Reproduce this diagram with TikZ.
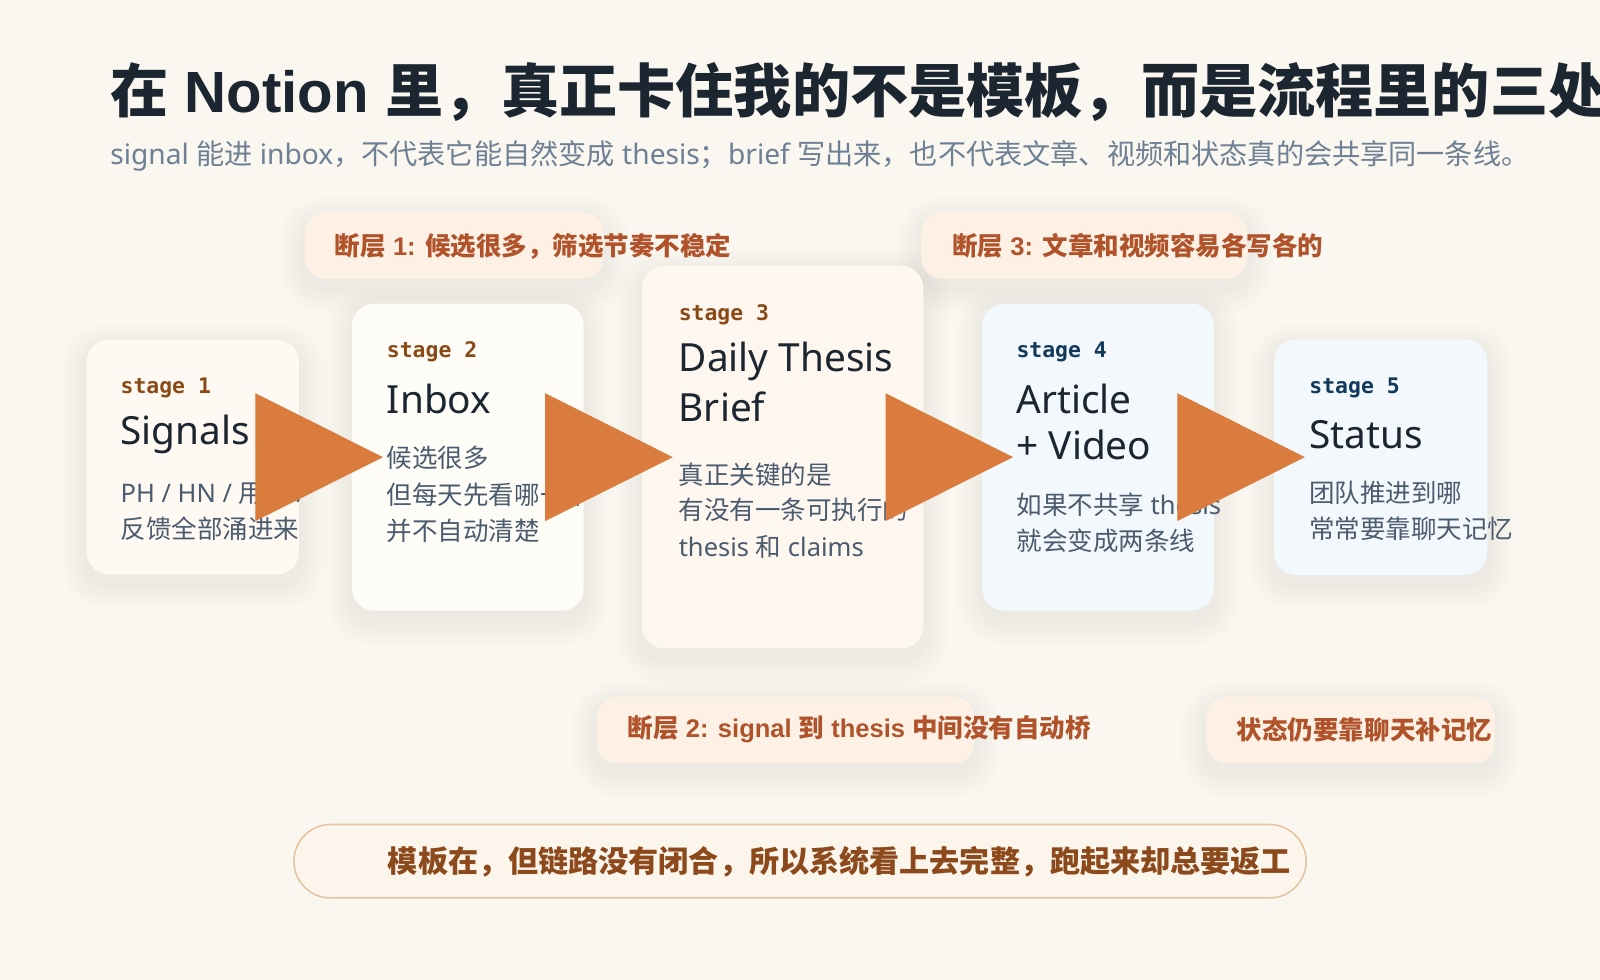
\documentclass[tikz,border=0pt]{standalone}
\usepackage{fontspec}
\setmainfont{Noto Sans}[BoldFont={Liberation Sans Bold}]
\setmonofont{DejaVu Sans Mono}
\newfontfamily\cjkfont{Noto Sans CJK SC}
% switch to the CJK face for Han characters and CJK punctuation
\XeTeXinterchartokenstate=1
\newXeTeXintercharclass\cjkclass
\newcount\cjkcode
\def\setcjkrange#1#2{\cjkcode=#1\relax
  \loop\XeTeXcharclass\cjkcode=\cjkclass
    \ifnum\cjkcode<#2\relax\advance\cjkcode by 1\repeat}
\setcjkrange{"3000}{"303F}
\setcjkrange{"4E00}{"9FFF}
\setcjkrange{"FF00}{"FFEF}
\XeTeXinterchartoks 0 \cjkclass = {\begingroup\cjkfont}
\XeTeXinterchartoks 4095 \cjkclass = {\begingroup\cjkfont}
\XeTeXinterchartoks \cjkclass 0 = {\endgroup}
\XeTeXinterchartoks \cjkclass 4095 = {\endgroup}
\usepackage{xcolor}
\usepackage{tikz}
\usetikzlibrary{arrows.meta, positioning}

\definecolor{paper}{HTML}{FAF6F0}
\definecolor{ink}{HTML}{1C2630}
\definecolor{mist}{HTML}{6E8093}
\definecolor{slate}{HTML}{4B5B6E}
\definecolor{rust}{HTML}{B0532B}
\definecolor{bark}{HTML}{8A4A16}
\definecolor{navy}{HTML}{10395B}
\definecolor{warmA}{HTML}{FFF9F3}
\definecolor{warmB}{HTML}{FEFCF6}
\definecolor{warmC}{HTML}{FEF7F0}
\definecolor{icy}{HTML}{F3F8FC}
\definecolor{peach}{HTML}{FDF1E5}
\definecolor{tan}{HTML}{E4C49E}
\definecolor{cream}{HTML}{FCF5EC}
\definecolor{umber}{HTML}{8C4A1C}
\definecolor{ember}{HTML}{D97C3D}
\definecolor{glowc}{HTML}{A98B72}

\pgfdeclarelayer{back}
\pgfdeclarelayer{glow}
\pgfsetlayers{back,glow,main}

\begin{document}
\begin{tikzpicture}[
    x=1pt, y=-1pt,
    card/.style={rounded corners=22pt, inner sep=0pt},
    tag/.style={anchor=west, inner sep=0pt, font=\ttfamily\bfseries\fontsize{21}{24}\selectfont, text=bark},
    cooltag/.style={tag, text=navy},
    headline/.style={anchor=west, inner sep=0pt, font=\fontsize{38}{44}\selectfont, text=ink},
    bodyline/.style={anchor=west, inner sep=0pt, font=\fontsize{25}{30}\selectfont, text=slate},
    gapbox/.style={rounded corners=20pt, fill=peach, minimum height=65pt, inner sep=0pt},
    gaptext/.style={anchor=west, inner sep=0pt, font=\bfseries\fontsize{25}{30}\selectfont, text=rust},
    moral/.style={rounded corners=36pt, draw=tan, line width=1.5pt, fill=cream, inner sep=0pt},
    flow/.style={draw=ember, line width=1pt, shorten >=-30.5pt, -{Triangle[length=125pt, width=125pt]}}
]
\useasboundingbox (0,0) rectangle (1568,960.4);
\clip (0,0) rectangle (1568,960.4);
\begin{pgfonlayer}{back}
\fill[paper] (0,0) rectangle (1568,960.4);
\end{pgfonlayer}

% heading
\node[anchor=west, inner sep=0pt, font=\bfseries\fontsize{57}{62}\selectfont, text=ink] (title) at (108,90)
    {在 Notion 里，真正卡住我的不是模板，而是流程里的三处};
\node[anchor=west, inner sep=0pt, font=\fontsize{27.6}{32}\selectfont, text=mist] (subtitle) at (108,153)
    {signal 能进 inbox，不代表它能自然变成 thesis；brief 写出来，也不代表文章、视频和状态真的会共享同一条线。};

% gaps
\node[gapbox, minimum width=293pt] (g1) at (445,240.5) {};
\node[gaptext] (g1-text) at (328,241) {断层 1: 候选很多，筛选节奏不稳定};
\node[gapbox, minimum width=319pt] (g3) at (1062.5,240.5) {};
\node[gaptext] (g3-text) at (933,241) {断层 3: 文章和视频容易各写各的};
\node[gapbox, minimum width=370pt] (g2) at (770,715.5) {};
\node[gaptext] (g2-text) at (615,715) {断层 2: signal 到 thesis 中间没有自动桥};
\node[gapbox, minimum width=283pt] (g4) at (1323.5,715.5) {};
\node[gaptext] (g4-text) at (1212,715) {状态仍要靠聊天补记忆};

% stage 1
\node[card, fill=warmA, minimum width=208pt, minimum height=230pt] (s1) at (189,448) {};
\node[tag] (s1-tag) at (118,380) {stage 1};
\node[headline] (s1-name) at (118,426) {Signals};
\node[bodyline] (s1-a) at (118,483) {PH / HN / 用户 /};
\node[bodyline] (s1-b) at (118,518) {反馈全部涌进来};

% stage 2
\node[card, fill=warmB, minimum width=227pt, minimum height=301pt] (s2) at (458.5,448) {};
\node[tag] (s2-tag) at (379,345) {stage 2};
\node[headline] (s2-name) at (379,391) {Inbox};
\node[bodyline] (s2-a) at (379,449) {候选很多};
\node[bodyline] (s2-b) at (379,485) {但每天先看哪一个};
\node[bodyline] (s2-c) at (379,520) {并不自动清楚};

% stage 3
\node[card, fill=warmC, minimum width=276pt, minimum height=375pt] (s3) at (767,448) {};
\node[tag] (s3-tag) at (665,308) {stage 3};
\node[headline] (s3-name) at (665,354) {Daily Thesis};
\node[headline] (s3-name2) at (665,399) {Brief};
\node[bodyline] (s3-a) at (665,465) {真正关键的是};
\node[bodyline] (s3-b) at (665,500) {有没有一条可执行的};
\node[bodyline] (s3-c) at (665,536) {thesis 和 claims};

% stage 4
\node[card, fill=icy, minimum width=227pt, minimum height=301pt] (s4) at (1076,448) {};
\node[cooltag] (s4-tag) at (996,345) {stage 4};
\node[headline] (s4-name) at (996,391) {Article};
\node[headline] (s4-name2) at (996,436) {+ Video};
\node[bodyline] (s4-a) at (996,495) {如果不共享 thesis};
\node[bodyline] (s4-b) at (996,530) {就会变成两条线};

% stage 5
\node[card, fill=icy, minimum width=209pt, minimum height=231pt] (s5) at (1353,448) {};
\node[cooltag] (s5-tag) at (1283,380) {stage 5};
\node[headline] (s5-name) at (1283,426) {Status};
\node[bodyline] (s5-a) at (1283,483) {团队推进到哪};
\node[bodyline] (s5-b) at (1283,518) {常常要靠聊天记忆};

% soft shadows
\begin{pgfonlayer}{glow}
\foreach \n in {s1,s2,s3,s4,s5,g1,g2,g3,g4}
  \foreach \r in {2,4,...,26}
    \fill[glowc, opacity=0.009, rounded corners={(20+\r)*1pt}]
      ([xshift=-\r pt, yshift={(\r-9)*1pt}]\n.north west) rectangle ([xshift=\r pt, yshift={(-\r-9)*1pt}]\n.south east);
\end{pgfonlayer}

% flow
\draw[flow] (s1.east) -- (s2.west);
\draw[flow] (s2.east) -- (s3.west);
\draw[flow] (s3.east) -- (s4.west);
\draw[flow] (s4.east) -- (s5.west);

% summary
\node[moral, minimum width=992pt, minimum height=72pt] (lesson) at (784,844) {};
\node[anchor=west, inner sep=0pt, font=\bfseries\fontsize{29.5}{34}\selectfont, text=umber] (lesson-text) at (380,845)
    {模板在，但链路没有闭合，所以系统看上去完整，跑起来却总要返工};
\end{tikzpicture}
\end{document}
